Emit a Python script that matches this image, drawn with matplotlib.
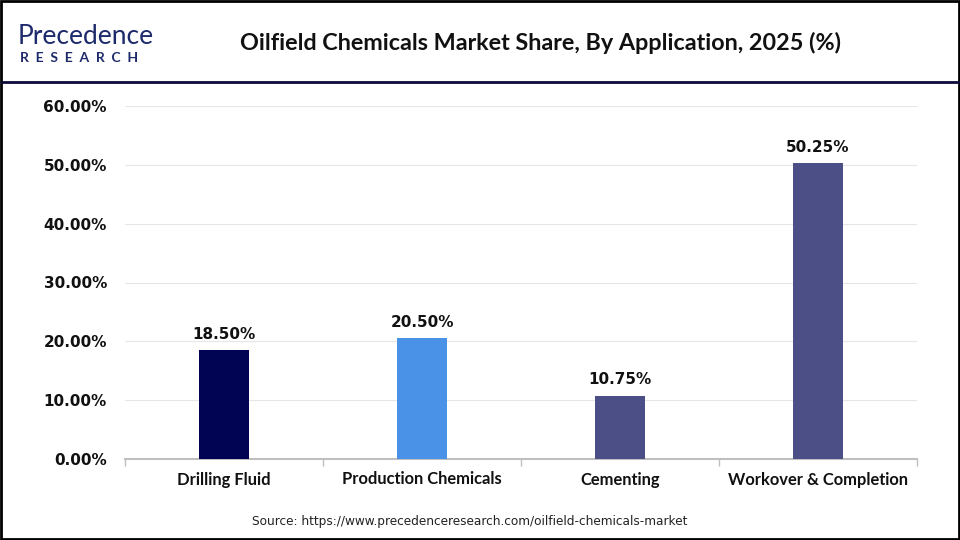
import matplotlib
matplotlib.use("Agg")
import matplotlib.pyplot as plt
from matplotlib.patches import Rectangle
from matplotlib.lines import Line2D

categories = ["Drilling Fluid", "Production Chemicals", "Cementing", "Workover & Completion"]
values = [18.50, 20.50, 10.75, 50.25]
colors = ["#010452", "#4a91e8", "#4b4f85", "#4b4f85"]
yticks = [0, 10, 20, 30, 40, 50, 60]

title = "Oilfield Chemicals Market Share, By Application, 2025 (%)"
source = "Source: https://www.precedenceresearch.com/oilfield-chemicals-market"

fig = plt.figure(figsize=(9.6, 5.4), dpi=100)
fig.patch.set_facecolor("white")

# border
fig.patches.append(Rectangle((0.001, 0.002), 0.998, 0.996, transform=fig.transFigure,
                             fill=False, edgecolor="black", linewidth=2))
# header separator
fig.lines.append(Line2D([0.002, 0.998], [1 - 82 / 540, 1 - 82 / 540], transform=fig.transFigure,
                        color="#0b0b3b", linewidth=2))

# logo
fig.text(18 / 960, 1 - 36 / 540, "Precedence", fontsize=19, color="#1d2a6b", family="Lato",
         va="center", ha="left")
fig.text(20 / 960, 1 - 58 / 540, "R  E  S  E  A  R  C  H", fontsize=10, color="#1d2a6b", family="Lato",
         fontweight="bold", va="center", ha="left")

fig.text(540 / 960, 1 - 43 / 540, title, fontsize=16.8, fontweight="bold", family="Lato",
         ha="center", va="center", color="#111111")

ax = fig.add_axes([125 / 960, 1 - 459 / 540, 792 / 960, (459 - 106) / 540])
x = range(len(categories))
bars = ax.bar(x, values, width=0.25, color=colors, zorder=3)
for xi, v in zip(x, values):
    ax.annotate(f"{v:.2f}%", (xi, v), xytext=(0, 6), textcoords="offset points",
                ha="center", va="bottom", fontsize=11, fontweight="bold", color="#111111")

ax.set_xlim(-0.5, len(categories) - 0.5)
ax.set_ylim(0, 60)
ax.set_yticks(yticks)
ax.set_yticklabels([f"{t:.2f}%" for t in yticks], fontsize=11, fontweight="bold", color="#111111")
ax.yaxis.grid(True, color="#e6e6e6", linewidth=0.8, zorder=0)
ax.tick_params(axis="y", length=0, pad=13)

ax.set_xticks(list(x))
ax.set_xticklabels(categories, fontsize=11.9, fontweight="bold", family="Lato", color="#111111")
ax.tick_params(axis="x", length=0, pad=9)
# boundary ticks
ax.set_xticks([i - 0.5 for i in range(len(categories) + 1)], minor=True)
ax.tick_params(axis="x", which="minor", length=5, color="#bfbfbf", width=1)

for s in ["top", "right", "left"]:
    ax.spines[s].set_visible(False)
ax.spines["bottom"].set_color("#bfbfbf")
ax.spines["bottom"].set_linewidth(1.5)

fig.text(470 / 960, 1 - 521 / 540, source, fontsize=8.7, ha="center", va="center", color="#222222")

fig.savefig("out.png", dpi=100)
